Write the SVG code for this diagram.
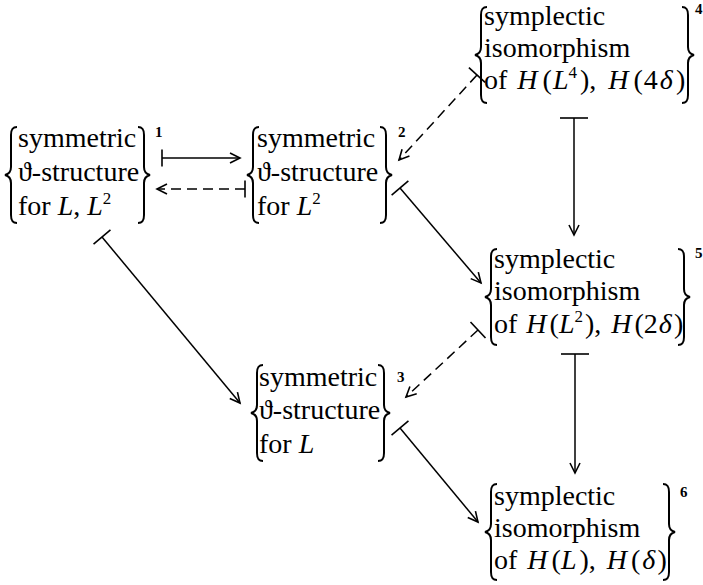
<svg xmlns="http://www.w3.org/2000/svg" width="703" height="585" viewBox="0 0 703 585">
<style>
.t{font-family:"Liberation Serif","DejaVu Serif",serif;font-size:28px;fill:#000}
.i{font-style:italic}
.sp{font-size:17px}
.s{font-family:"Liberation Serif","DejaVu Serif",serif;font-size:15px;font-weight:bold;fill:#000}
.br{fill:none;stroke:#000;stroke-width:2}
.mk{fill:none;stroke:#000;stroke-width:1.6}
.c{fill:none;stroke:#000;stroke-width:1.5}
.d{stroke-dasharray:10 6}
</style>
<defs>
<path id="lb" class="br" d="M12,0 C7,0 6,3 6,8 L6,40 C6,45 4,47 0,48 C4,49 6,51 6,56 L6,88 C6,93 7,96 12,96"/>
<path id="rb" class="br" d="M-12,0 C-7,0 -6,3 -6,8 L-6,40 C-6,45 -4,47 0,48 C-4,49 -6,51 -6,56 L-6,88 C-6,93 -7,96 -12,96"/>
<marker id="ah" markerUnits="userSpaceOnUse" overflow="visible" orient="auto" refX="0" refY="0" markerWidth="1" markerHeight="1"><path class="mk" d="M-10,-5 L0,0 L-10,5"/></marker>
<marker id="teeH" markerUnits="userSpaceOnUse" overflow="visible" orient="auto" refX="0" refY="0" markerWidth="1" markerHeight="1"><path class="mk" d="M0,-8.5 V8.5"/></marker>
<marker id="teeS" markerUnits="userSpaceOnUse" overflow="visible" orient="auto" refX="0" refY="0" markerWidth="1" markerHeight="1"><path class="mk" d="M0,-11 V11"/></marker>
<marker id="teeL" markerUnits="userSpaceOnUse" overflow="visible" orient="auto" refX="0" refY="0" markerWidth="1" markerHeight="1"><path class="mk" d="M0,-14 V14"/></marker>
</defs>
<rect width="703" height="585" fill="#fff"/>

<g id="n1">
<use href="#lb" transform="translate(5,127)"/>
<text class="t" x="18" y="147">symmetric</text>
<text class="t" x="18" y="181">ϑ-structure</text>
<text class="t" x="18" y="215">for <tspan class="i">L</tspan>, <tspan class="i">L</tspan><tspan class="sp" dy="-11">2</tspan></text>
<use href="#rb" transform="translate(150,127)"/>
<text class="s" x="155" y="137">1</text>
</g>

<g id="n2">
<use href="#lb" transform="translate(247,127)"/>
<text class="t" x="257" y="147">symmetric</text>
<text class="t" x="257" y="181">ϑ-structure</text>
<text class="t" x="257" y="215">for <tspan class="i">L</tspan><tspan class="sp" dy="-11">2</tspan></text>
<use href="#rb" transform="translate(392,127)"/>
<text class="s" x="398" y="137">2</text>
</g>

<g id="n3">
<use href="#lb" transform="translate(251,365)"/>
<text class="t" x="259" y="386">symmetric</text>
<text class="t" x="259" y="419">ϑ-structure</text>
<text class="t" x="259" y="453">for <tspan class="i">L</tspan></text>
<use href="#rb" transform="translate(390,365)"/>
<text class="s" x="397" y="382">3</text>
</g>

<g id="n4">
<use href="#lb" transform="translate(475,7)"/>
<text class="t" x="484" y="25">symplectic</text>
<text class="t" x="484" y="57">isomorphism</text>
<text class="t" x="484" y="89">of <tspan class="i" dx="3">H</tspan><tspan dx="5">(</tspan><tspan class="i" dx="1">L</tspan><tspan class="sp" dy="-11">4</tspan><tspan dy="11" dx="3">),</tspan> <tspan class="i" dx="5">H</tspan><tspan dx="5">(</tspan><tspan dx="1">4</tspan><tspan class="i" dx="2">δ</tspan><tspan dx="3">)</tspan></text>
<use href="#rb" transform="translate(694,7)"/>
<text class="s" x="695" y="14">4</text>
</g>

<g id="n5">
<use href="#lb" transform="translate(485,249)"/>
<text class="t" x="494" y="268">symplectic</text>
<text class="t" x="494" y="300">isomorphism</text>
<text class="t" x="494" y="333">of <tspan class="i" dx="2">H</tspan><tspan dx="3">(</tspan><tspan class="i">L</tspan><tspan class="sp" dy="-11">2</tspan><tspan dy="11" dx="2">),</tspan> <tspan class="i" dx="3">H</tspan><tspan dx="3">(</tspan>2<tspan class="i" dx="1">δ</tspan><tspan dx="2">)</tspan></text>
<use href="#rb" transform="translate(690,249)"/>
<text class="s" x="695" y="258">5</text>
</g>

<g id="n6">
<use href="#lb" transform="translate(485,484)"/>
<text class="t" x="494" y="505">symplectic</text>
<text class="t" x="494" y="537">isomorphism</text>
<text class="t" x="494" y="569">of <tspan class="i" dx="3">H</tspan><tspan dx="4">(</tspan><tspan class="i">L</tspan><tspan dx="3">),</tspan> <tspan class="i" dx="4">H</tspan><tspan dx="4">(</tspan><tspan class="i" dx="2">δ</tspan><tspan dx="2">)</tspan></text>
<use href="#rb" transform="translate(675,484)"/>
<text class="s" x="680" y="497">6</text>
</g>

<g id="connectors">
<path class="c" d="M162,158 H240" marker-start="url(#teeH)" marker-end="url(#ah)"/>
<path class="c d" d="M245,189 H157" marker-start="url(#teeH)" marker-end="url(#ah)"/>
<path class="c d" d="M477,75 L399,160" marker-start="url(#teeS)" marker-end="url(#ah)"/>
<path class="c" d="M102,237 L240,403" marker-start="url(#teeS)" marker-end="url(#ah)"/>
<path class="c" d="M400,188 L481,283" marker-start="url(#teeS)" marker-end="url(#ah)"/>
<path class="c" d="M574,118 V235" marker-start="url(#teeL)" marker-end="url(#ah)"/>
<path class="c d" d="M478,330 L406,397" marker-start="url(#teeS)" marker-end="url(#ah)"/>
<path class="c" d="M400,428 L478,522" marker-start="url(#teeS)" marker-end="url(#ah)"/>
<path class="c" d="M575,354 V473" marker-start="url(#teeL)" marker-end="url(#ah)"/>
</g>
</svg>
